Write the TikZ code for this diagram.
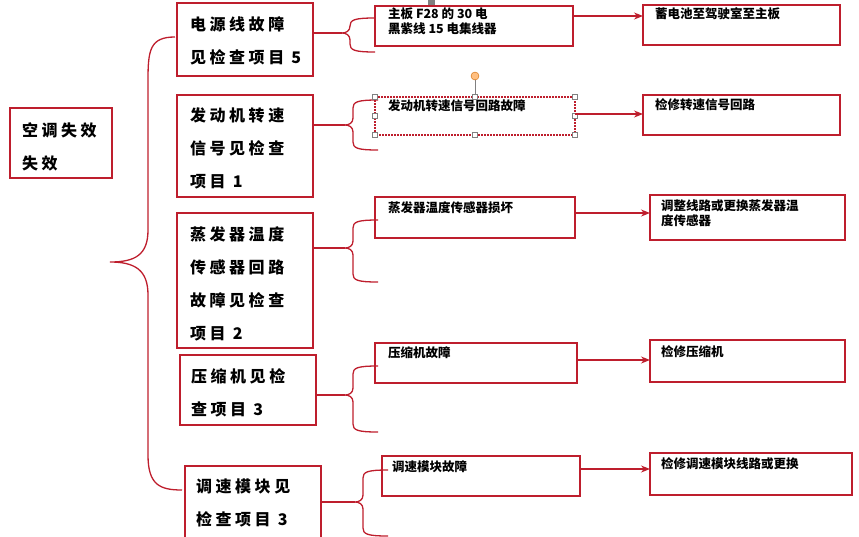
\documentclass[tikz,border=0pt]{standalone}
\usepackage{fontspec}
\newfontfamily\cjk[LetterSpace=22]{Noto Sans CJK SC}
\newfontfamily\cjks{Noto Sans CJK SC}
\usetikzlibrary{arrows.meta}
\definecolor{dred}{RGB}{190,30,45}
\tikzset{
 bigbox/.style={draw=dred,line width=2pt,anchor=north west,inner sep=0pt},
 big/.style={anchor=north west,font=\cjk\bfseries\fontsize{16}{33}\selectfont,align=left,inner sep=0pt},
 small/.style={anchor=north west,font=\cjks\bfseries\fontsize{12.5}{15}\selectfont,align=left,inner sep=0pt},
 br/.style={draw=dred,line width=1.3pt},
 arr/.style={draw=dred,line width=1.3pt,-{Stealth[length=9pt,width=7pt]}},
 hdl/.style={draw=gray,fill=white,line width=0.5pt,minimum size=5pt,inner sep=0pt}
}
\begin{document}
\begin{tikzpicture}[x=1pt,y=-1pt]
\useasboundingbox (0,0) rectangle (859,536);
\fill[gray] (428,0) rectangle (435,5);
% root
\draw[bigbox] (10,108) rectangle (112,178);
\node[big] (root) at (22,122) {空调失效\\失效};
% col1 boxes
\draw[bigbox] (177,3) rectangle (313,76);
\node[big] (a) at (190,16) {电源线故障\\见检查项目 5};
\draw[bigbox] (177,95) rectangle (313,197);
\node[big] (b) at (190,107) {发动机转速\\信号见检查\\项目 1};
\draw[bigbox] (177,213) rectangle (313,348);
\node[big] (c) at (190,226) {蒸发器温度\\传感器回路\\故障见检查\\项目 2};
\draw[bigbox] (180,355) rectangle (316,425);
\node[big] (d) at (191,368) {压缩机见检\\查项目 3};
\draw[bigbox] (185,466) rectangle (321,540);
\node[big] (e) at (196,479) {调速模块见\\检查项目 3};
% big brace
\draw[br] (175,37) .. controls (150,37) and (148,50) .. (148,80) -- (148,230)
  .. controls (148,255) and (135,262) .. (110,262)
  .. controls (135,262) and (148,270) .. (148,295) -- (148,455)
  .. controls (148,485) and (160,490) .. (182,490);
% small braces
\foreach \yt/\ym/\yb/\xl/\xs in {18/33/52/313/342, 100/125/150/313/345, 220/248/282/313/345, 366/395/432/316/345, 470/502/536/321/355}{
  \draw[br] (\xl,\ym) -- (\xs,\ym);
  \draw[br] (\xs+33,\yt) .. controls (\xs+12,\yt) and (\xs+8,\yt+2) .. (\xs+8,\yt+8) -- (\xs+8,\ym-7)
     .. controls (\xs+8,\ym-2) and (\xs+4,\ym) .. (\xs,\ym)
     .. controls (\xs+4,\ym) and (\xs+8,\ym+2) .. (\xs+8,\ym+7) -- (\xs+8,\yb-8)
     .. controls (\xs+8,\yb-2) and (\xs+12,\yb) .. (\xs+33,\yb);
}
% col2
\draw[bigbox] (375,6) rectangle (573,46);
\node[small] (a2) at (388,8) {主板 F28 的 30 电\\黑紫线 15 电集线器};
\draw[draw=dred,line width=1.3pt,dash pattern=on 2pt off 1pt] (375,97) rectangle (575,135);
\node[small] (b2) at (388,99) {发动机转速信号回路故障};
\draw[gray,line width=0.6pt] (475,97) -- (475,78);
\node[draw=orange!80!black,fill=orange!50,circle,minimum size=8pt,inner sep=0pt] (rot) at (475,76) {};
\foreach \p in {(375,97),(475,97),(575,97),(375,116),(575,116),(375,135),(475,135),(575,135)} \node[hdl] at \p {};
\draw[bigbox] (375,197) rectangle (575,238);
\node[small] (c2) at (388,201) {蒸发器温度传感器损坏};
\draw[bigbox] (375,343) rectangle (577,383);
\node[small] (d2) at (388,346) {压缩机故障};
\draw[bigbox] (382,456) rectangle (580,496);
\node[small] (e2) at (392,460) {调速模块故障};
% col3
\draw[bigbox] (643,5) rectangle (840,45);
\node[small] (a3) at (655,7) {蓄电池至驾驶室至主板};
\draw[bigbox] (643,95) rectangle (840,135);
\node[small] (b3) at (655,98) {检修转速信号回路};
\draw[bigbox] (650,195) rectangle (845,240);
\node[small] (c3) at (661,199) {调整线路或更换蒸发器温\\度传感器};
\draw[bigbox] (650,340) rectangle (845,382);
\node[small] (d3) at (661,345) {检修压缩机};
\draw[bigbox] (650,453) rectangle (852,495);
\node[small] (e3) at (661,457) {检修调速模块线路或更换};
% arrows
\draw[arr] (573,16) -- (643,16);
\draw[arr] (575,114) -- (643,114);
\draw[arr] (575,213) -- (650,213);
\draw[arr] (577,360) -- (650,360);
\draw[arr] (580,469) -- (650,469);
\end{tikzpicture}
\end{document}
